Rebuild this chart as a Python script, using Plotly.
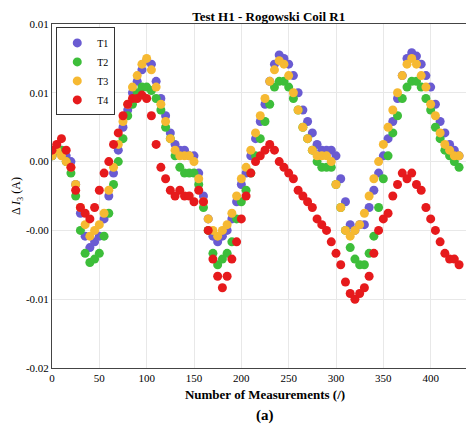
import plotly.graph_objects as go

# measurement index, every 5th sample
x = list(range(0, 435, 5))

# Delta I3 in mA
t1 = [-1.5, -1, -1, -1.5, -2, -4, -6.5, -8.5, -9.5, -9, -8.5, -7, -5, -3, -1, 1, 2.5, 4, 5, 6,
      6.8, 6.5, 5, 3.5, 2, 0.5, -0.5, -1, -1, -1.5, -1.5, -3, -5, -7, -8.5, -9, -8.5, -8, -7, -5.5,
      -4, -3, -1.5, 0, 1.5, 3, 5, 6.5, 7.3, 7, 6.5, 5.5, 4, 2.5, 1.5, 0.5, -0.5, -1, -1, -1,
      -1.5, -3.5, -5.5, -7.5, -8, -7.5, -7.5, -6, -4.5, -3, -1.5, 0, 1.5, 3.5, 5.5, 7, 7.5, 7.2, 6.5, 5.5,
      4.5, 3, 1.5, 0.5, -0.5, -1, -1.5]
t2 = [-1.5, -1, -1, -2, -3, -5, -8, -10, -10.8, -10.5, -10, -8.5, -6.5, -4, -2, 0, 2, 3, 4, 4.5,
      4.5, 4.2, 3.5, 2.5, 1, 0, -1.5, -2.5, -3, -3, -3, -4, -6, -8, -10, -11, -10.5, -10, -9, -7,
      -5.5, -4.5, -3, -1.5, 0, 1.5, 3, 4.5, 5, 5, 4.5, 3.5, 2.5, 1, 0, -1, -2, -2.5, -2.5, -2.5,
      -4, -6, -8, -9.5, -10.5, -11, -11, -10, -8.5, -6, -3.5, -1.5, 0.5, 2, 3.5, 4.5, 5, 5, 4.5, 3.5,
      2.5, 1, 0, -1, -1.5, -2, -2.5]
t3 = [-1.5, -1, -1.5, -2, -2.5, -4, -6, -7.5, -8.5, -8, -7.5, -6.5, -4.5, -2.5, -0.5, 1.5, 3, 4.5, 5.5, 6.5,
      7, 6, 4.5, 3, 1.5, 0, -1, -1.5, -1.5, -1.5, -2, -3.5, -5.5, -7, -8, -8.5, -8, -7.5, -6.5, -5,
      -3.5, -2.5, -1, 0.5, 2, 3.5, 5, 6, 6.8, 6.5, 5.5, 4, 2.5, 1, 0, -1, -1.5, -1.5, -1.5, -2,
      -4, -6, -8, -8.5, -8, -7.5, -6.5, -5, -3.5, -2, -0.5, 1, 2.5, 4, 5.5, 6.5, 7, 6.5, 5.5, 4.5,
      3, 2, 0.5, -0.5, -1, -1.5, -1.5]
t4 = [-1, -0.5, 0, -1, -2.5, -4.5, -6, -6.5, -7, -6, -4.5, -3, -2, -0.5, 0.5, 2, 3, 3.5, 3.5, 3.8,
      3.5, 2, -0.5, -2.5, -3.5, -4.5, -5, -4.5, -5, -5, -5.5, -4.5, -5.5, -8, -10.5, -12, -13, -12, -10.5, -9,
      -7, -5, -3, -2, -1.5, -1, -0.5, -1, -2, -2.5, -3, -3.5, -4.5, -5, -5.5, -6, -7, -7.5, -8, -9,
      -10, -11, -12.5, -13.5, -14, -13.5, -13, -12, -10, -8, -7, -6.5, -5, -4, -3, -3.5, -3, -4, -4.5, -6,
      -7, -8, -9, -10, -10.5, -10.5, -11]

series = {'T1': t1, 'T2': t2, 'T3': t3, 'T4': t4}
colors = {'T1': '#6A5BD2', 'T2': '#3DBE3A', 'T3': '#F6B932', 'T4': '#E61A1C'}

y_ticks = [0.010, 0.004, -0.002, -0.008, -0.014, -0.020]
y_labels = ['0.01', '0.01', '0.00', '-0.00', '-0.01', '-0.02']

serif = 'Liberation Serif'
fig = go.Figure()
for name, vals in series.items():
    fig.add_trace(go.Scatter(x=x, y=[v / 1000 for v in vals], mode='markers', name=name,
                             marker=dict(color=colors[name], size=9)))

fig.update_layout(
    width=474, height=438, plot_bgcolor='white', paper_bgcolor='white',
    margin=dict(l=44, r=4, t=16, b=78, autoexpand=False),
    font=dict(family=serif, size=11, color='black'),
    title=dict(text='<b>Test H1 - Rogowski Coil R1</b>', x=0.55, y=0.992, xanchor='center',
               yanchor='top', font=dict(size=13)),
    legend=dict(x=0.01, y=0.99, xanchor='left', yanchor='top', bordercolor='#333',
                borderwidth=1, bgcolor='white', font=dict(size=10), tracegroupgap=0,
                itemwidth=30),
    xaxis=dict(range=[0, 450], tickvals=list(range(0, 500, 50)), showgrid=True,
               gridcolor='#E8E8E8', showline=True, linecolor='#444', mirror=True, zeroline=False,
               title=dict(text='<b>Number of Measurements (/)</b>', font=dict(size=13), standoff=6)),
    yaxis=dict(range=[-0.02, 0.01], tickvals=y_ticks, ticktext=y_labels, showgrid=True,
               gridcolor='#E8E8E8', showline=True, linecolor='#444', mirror=True, zeroline=False,
               title=dict(text='Δ <i>I</i><sub>3</sub> (A)', font=dict(size=12), standoff=2)),
)
fig.add_annotation(text='<b>(a)</b>', xref='paper', yref='paper', x=0.5, y=-0.17,
                   showarrow=False, font=dict(size=15))
fig.write_html('out.html')
